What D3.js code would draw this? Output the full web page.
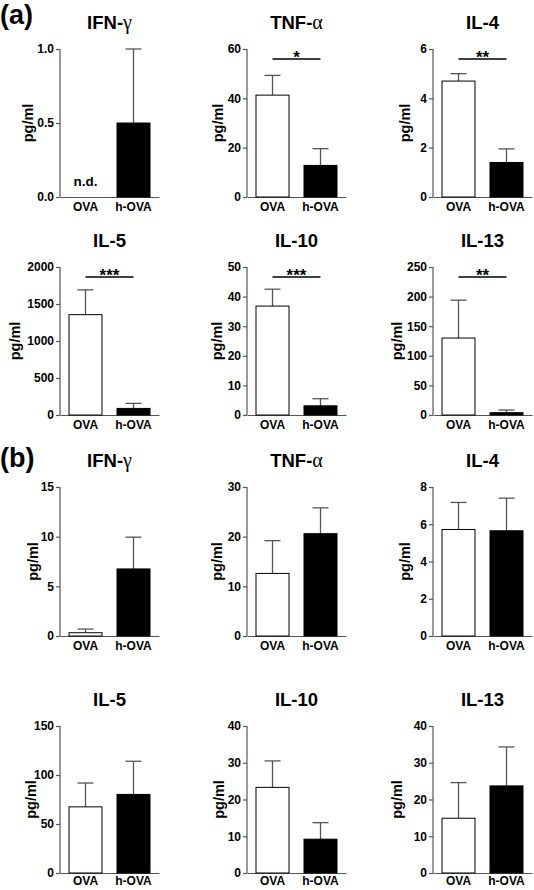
<!DOCTYPE html>
<html>
<head>
<meta charset="utf-8">
<script src="https://cdn.jsdelivr.net/npm/d3@7"></script>
<style>
html,body{margin:0;padding:0;background:#fff;}
svg{display:block;}
</style>
</head>
<body>
<svg id="chart" width="534" height="890"></svg>
<script>
// ---------- data ----------
const panelLabels = ["(a)", "(b)"];
const cytokines = ["IFN-γ", "TNF-α", "IL-4", "IL-5", "IL-10", "IL-13"];
const groups = ["OVA", "h-OVA"];

// panel (a): means and SEM (upper error only); null = not detected
const aMeans = [[null, 0.5], [41.3, 12.8], [4.7, 1.4], [1356, 89], [36.8, 3.1], [130, 3.9]];
const aSem   = [[null, 0.5], [8.0, 6.8],  [0.3, 0.55], [335, 68], [5.7, 2.4],  [64, 4.5]];
const aYMax  = [1.0, 60, 6, 2000, 50, 250];
const aTickStep = [0.5, 20, 2, 500, 10, 50];
const aSig   = [null, "*", "**", "***", "***", "**"];

// panel (b)
const bMeans = [[0.33, 6.75], [12.6, 20.6], [5.72, 5.65], [67.5, 80.2], [23.3, 9.2], [14.9, 23.7]];
const bSem   = [[0.37, 3.2],  [6.6, 5.2],   [1.45, 1.75], [24.3, 33.8], [7.2, 4.5], [9.7, 10.6]];
const bYMax  = [15, 30, 8, 150, 40, 40];
const bTickStep = [5, 10, 2, 50, 10, 10];
const bSig   = [null, null, null, null, null, null];

const yLabel = "pg/ml";
const ndLabel = "n.d.";

// ---------- layout ----------
const FONT = "'Liberation Sans', Arial, Helvetica, sans-serif";
const colX = [60, 247, 433];          // y-axis x position per column
const rowTop = [49, 267, 487, 726];   // plot top per row
const rowBot = [197, 415, 636, 873];  // plot bottom per row
const xPad = [5, 5, 5, 3.5];
const plotW = 99;
const axisColor = "#555";
const yLabelOffsetA = [32, 29, 28, 45, 30, 36];
const yLabelOffsetB = [27, 30, 28, 29, 28, 36];

const svg = d3.select("#chart");

const panels = [
  {label: panelLabels[0], means: aMeans, sem: aSem, ymax: aYMax, step: aTickStep, sig: aSig, rowOffset: 0, labelY: 24, ylo: yLabelOffsetA},
  {label: panelLabels[1], means: bMeans, sem: bSem, ymax: bYMax, step: bTickStep, sig: bSig, rowOffset: 2, labelY: 467, ylo: yLabelOffsetB}
];

panels.forEach(P => {
  svg.append("text")
    .attr("x", 0).attr("y", P.labelY)
    .attr("font-family", FONT).attr("font-weight", "bold").attr("font-size", 27)
    .attr("fill", "#000")
    .text(P.label);

  cytokines.forEach((name, i) => {
    const row = P.rowOffset + Math.floor(i / 3);
    const col = i % 3;
    const x0 = colX[col], top = rowTop[row], bot = rowBot[row];
    const g = svg.append("g");

    const x = d3.scaleBand().domain(groups).range([x0, x0 + plotW])
      .paddingInner(0.3125).paddingOuter(0.1875);
    const y = d3.scaleLinear().domain([0, P.ymax[i]]).range([bot, top]);
    const ticks = d3.range(0, P.ymax[i] + P.step[i] / 2, P.step[i]);
    const fmt = P.step[i] < 1 ? d3.format(".1f") : d3.format("d");

    // title with greek letter in serif
    const t = g.append("text")
      .attr("x", x0 + plotW / 2).attr("y", top - 20)
      .attr("text-anchor", "middle")
      .attr("font-family", FONT).attr("font-weight", "bold").attr("font-size", 18.5)
      .attr("fill", "#000");
    const m = name.match(/^(.*-)([αγ])$/);
    if (m) {
      t.append("tspan").text(m[1]);
      t.append("tspan").attr("font-family", "'Liberation Serif', 'DejaVu Serif', serif")
        .attr("font-weight", "normal").attr("font-size", 20).text(m[2]);
    } else {
      t.text(name);
    }

    // y axis
    const yAxis = d3.axisLeft(y).tickValues(ticks).tickFormat(fmt).tickSize(4).tickPadding(2);
    const ya = g.append("g").attr("transform", `translate(${x0},0)`).call(yAxis);
    ya.select(".domain").attr("stroke", axisColor).attr("stroke-width", 1.2).attr("d", `M0,${top}V${bot}`);
    ya.selectAll(".tick line").attr("stroke", axisColor).attr("stroke-width", 1.2);
    ya.selectAll(".tick text").attr("font-family", FONT).attr("font-weight", "bold")
      .attr("font-size", 12).attr("fill", "#000");

    // x axis
    const xAxis = d3.axisBottom(x).tickSize(0).tickPadding(xPad[row]);
    const xa = g.append("g").attr("transform", `translate(0,${bot})`).call(xAxis);
    xa.select(".domain").attr("stroke", axisColor).attr("stroke-width", 1.2);
    xa.selectAll(".tick text").attr("font-family", FONT).attr("font-weight", "bold")
      .attr("font-size", 12).attr("fill", "#000");

    // y label
    g.append("text")
      .attr("transform", `translate(${x0 - P.ylo[i]},${(top + bot) / 2}) rotate(-90)`)
      .attr("text-anchor", "middle").attr("dy", "0.35em")
      .attr("font-family", FONT).attr("font-weight", "bold").attr("font-size", 14.5)
      .attr("fill", "#000")
      .text(yLabel);

    // bars
    groups.forEach((grp, j) => {
      const v = P.means[i][j];
      const bx = x(grp), bw = x.bandwidth(), cx = bx + bw / 2;
      if (v === null) {
        g.append("text").attr("x", cx).attr("y", bot - 11).attr("text-anchor", "middle")
          .attr("font-family", FONT).attr("font-weight", "bold").attr("font-size", 13.5)
          .attr("fill", "#000").text(ndLabel);
        return;
      }
      const e = P.sem[i][j];
      // error bar (upper)
      g.append("line").attr("x1", cx).attr("x2", cx).attr("y1", y(v)).attr("y2", y(v + e))
        .attr("stroke", axisColor).attr("stroke-width", 1.3);
      g.append("line").attr("x1", cx - 8).attr("x2", cx + 8).attr("y1", y(v + e)).attr("y2", y(v + e))
        .attr("stroke", axisColor).attr("stroke-width", 1.3);
      g.append("rect")
        .attr("x", bx).attr("y", y(v)).attr("width", bw).attr("height", bot - y(v))
        .attr("fill", j === 0 ? "#fff" : "#000").attr("stroke", "#000").attr("stroke-width", 1);
    });

    // significance
    if (P.sig[i]) {
      const ly = top + 10;
      const c0 = x(groups[0]) + x.bandwidth() / 2, c1 = x(groups[1]) + x.bandwidth() / 2;
      g.append("line").attr("x1", c0).attr("x2", c1).attr("y1", ly).attr("y2", ly)
        .attr("stroke", "#000").attr("stroke-width", 1.3);
      g.append("text").attr("x", (c0 + c1) / 2).attr("y", ly + 4).attr("text-anchor", "middle")
        .attr("font-family", FONT).attr("font-weight", "bold").attr("font-size", 17)
        .attr("fill", "#000").text(P.sig[i]);
    }
  });
});
</script>
</body>
</html>
